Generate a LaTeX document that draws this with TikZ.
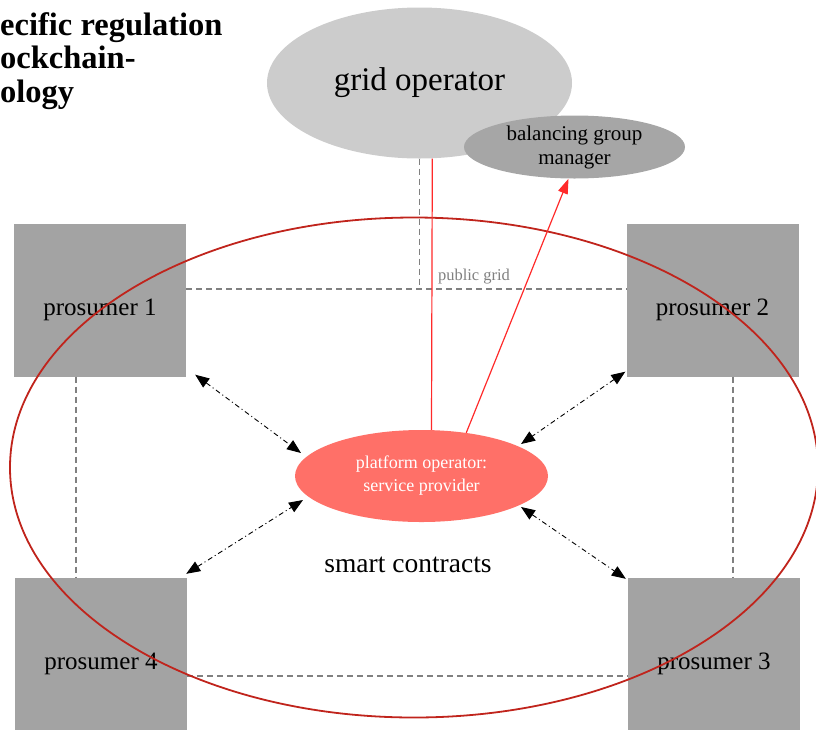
\documentclass[tikz,border=0pt]{standalone}
\usepackage{fontspec}
\setmainfont{Liberation Serif}
\usetikzlibrary{shapes.geometric, calc, arrows.meta, positioning}

\definecolor{gridgray}{HTML}{CCCCCC}
\definecolor{bgmgray}{HTML}{A6A6A6}
\definecolor{boxgray}{HTML}{A3A3A3}
\definecolor{platred}{HTML}{FF7068}
\definecolor{ringred}{HTML}{C0241C}
\definecolor{feedred}{HTML}{FF2A2A}
\definecolor{wiregray}{HTML}{808080}

\begin{document}
\begin{tikzpicture}[
    x=1pt, y=-1pt,
    >=Triangle,
    prosumer/.style={rectangle, fill=boxgray, inner sep=0pt, minimum width=172pt,
        minimum height=153pt, font=\fontsize{25}{29}\selectfont, text height=34pt, text depth=4pt},
    blob/.style={ellipse, inner sep=0pt, align=center},
    wire/.style={draw=wiregray, line width=1.3pt, dash pattern=on 6pt off 4pt},
    feed/.style={draw=feedred, line width=1.2pt},
    link/.style={line width=0.9pt, dash pattern=on 5pt off 3pt on 1pt off 3pt,
        {Triangle[length=14pt, width=11pt]}-{Triangle[length=14pt, width=11pt]}},
    headline/.style={anchor=base west, inner sep=0pt, font=\bfseries\fontsize{32.5}{36}\selectfont}
]
    \useasboundingbox (0,0) rectangle (816,729);
    \clip (0,0) rectangle (816,729);

    % Nodes ------------------------------------------------------

    \node[headline] (t1) at (0,35) {ecific regulation};
    \node[headline] (t2) at (0,68) {ockchain-};
    \node[headline] (t3) at (0,102) {ology};

    \node[blob, fill=gridgray, minimum width=305pt, minimum height=151pt,
        font=\fontsize{33}{37}\selectfont] (grid) at (419.5,83) {grid operator};
    \node[blob, fill=bgmgray, minimum width=221pt, minimum height=63pt,
        font=\fontsize{21}{24}\selectfont] (bgm) at (574.5,147) {balancing group\\manager};

    \node[prosumer] (p1) at (100,300) {prosumer 1};
    \node[prosumer] (p2) at (712.5,300) {prosumer 2};
    \node[prosumer] (p3) at (714,654.5) {prosumer 3};
    \node[prosumer] (p4) at (101,654.5) {prosumer 4};

    \node[blob, fill=platred, text=white, minimum width=253pt, minimum height=92pt,
        font=\fontsize{18}{23}\selectfont] (plat) at (421.5,476) {platform operator:\\service provider};

    \node[font=\fontsize{27.5}{31}\selectfont] (smart) at (408,565) {smart contracts};

    % Public grid ------------------------------------------------

    \coordinate (pg) at (grid.south |- 0,289);
    \draw[wire] (grid.south) -- (pg);
    \draw[wire] (p1.east |- pg) -- (p2.west |- pg);
    \node[text=wiregray, font=\fontsize{16.5}{19}\selectfont] (pglabel) at (474,277) {public grid};

    \coordinate (lv) at (76,0);
    \coordinate (rv) at (733,0);
    \coordinate (bh) at (0,676);
    \draw[wire] (lv |- p1.south) -- (lv |- p4.north);
    \draw[wire] (rv |- p2.south) -- (rv |- p3.north);
    \draw[wire] (p4.east |- bh) -- (p3.west |- bh);

    % Smart contract ring ----------------------------------------

    \node[ellipse, draw=ringred, line width=1.8pt, minimum width=808pt, minimum height=500pt,
        inner sep=0pt] (ring) at (414,467.5) {};

    % Arrows ---------------------------------------------------

    % Red feeds
    \coordinate (tap) at ($(plat.north)+(10,0)$);
    \draw[feed] (tap) -- ($(tap |- grid.south)+(0.8,0)$);
    \draw[feed, -{Triangle[length=15pt, width=10pt]}] (plat.44) -- ($(bgm.south)+(-6,0)$);

    % Prosumer links
    \draw[link] ($(p1.south east)+(9,-2)$) -- ($(plat.center)+(-120.5,-23)$);
    \draw[link] ($(p2.south west)+(-1,-5)$) -- ($(plat.center)+(99.5,-32)$);
    \draw[link] ($(p4.north east)+(-1,-4)$) -- ($(plat.center)+(-118.5,24)$);
    \draw[link] ($(plat.center)+(99.5,31)$) -- ($(p3.north west)+(-2,1)$);

\end{tikzpicture}
\end{document}
